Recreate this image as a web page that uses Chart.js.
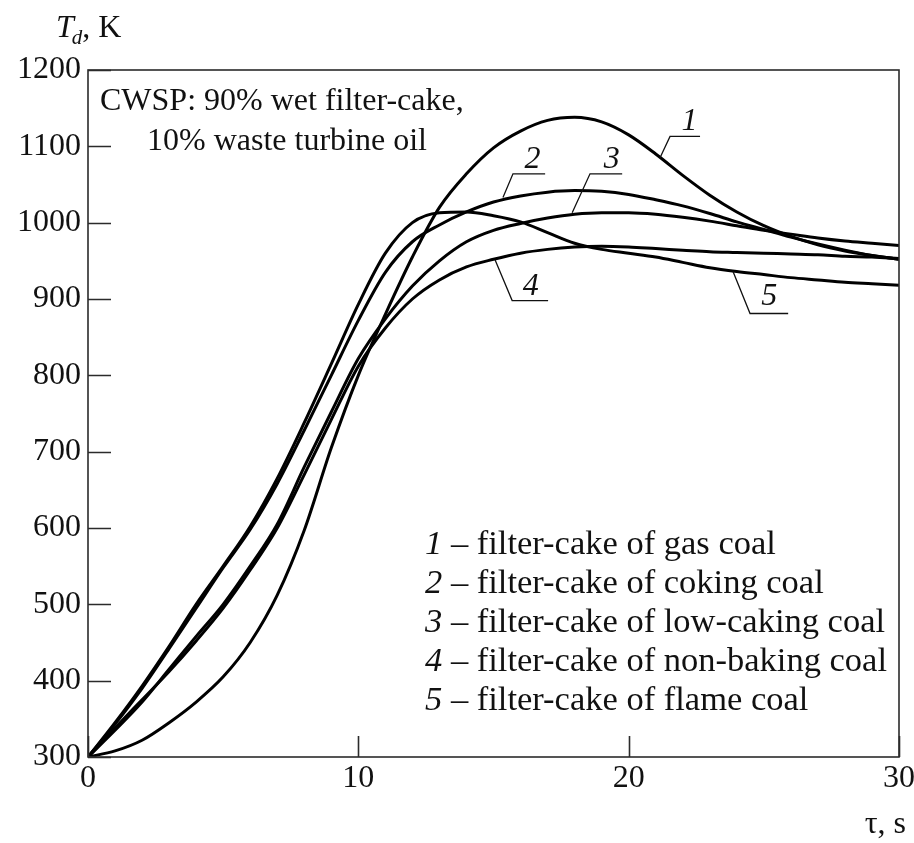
<!DOCTYPE html>
<html><head><meta charset="utf-8">
<script src="https://cdn.jsdelivr.net/npm/chart.js@4.4.0/dist/chart.umd.min.js"></script>
<style>html,body{margin:0;padding:0;background:#fff;}#wrap{width:914px;height:843px;}</style>
</head><body><div id="wrap"><canvas id="c" width="914" height="843"></canvas></div>
<script>
// ---- data ----
const tau = [0,1,2,3,4,5,6,7,8,9,10,11,12,13,14,15,16,17,18,19,20,21,22,23,24,25,26,27,28,29,30];
const gasCoal      = [300,308,322,345,372,405,450,512,597,705,800,880,955,1020,1064,1098,1120,1134,1138,1132,1115,1090,1062,1036,1014,996,982,971,963,957,952];
const cokingCoal   = [300,343,390,442,495,548,598,658,728,800,872,935,975,997,1014,1027,1035,1040,1042,1041,1037,1030,1022,1012,1001,991,981,972,964,957,952];
const lowCakingCoal= [300,335,372,415,458,500,550,605,680,752,822,874,917,950,975,990,999,1006,1011,1013,1013,1011,1007,1002,996,990,985,980,976,973,970];
const nonBakingCoal= [300,338,375,412,452,495,545,600,670,742,812,862,900,925,942,952,960,965,968,969,968,966,964,962,961,960,959,958,956,955,953];
const flameCoal    = [300,345,393,445,500,550,602,665,738,815,893,960,1000,1013,1014,1009,1001,987,973,965,960,955,948,941,936,932,928,925,922,920,918];
const seriesNames  = ['1','2','3','4','5'];
const legendTexts  = ['filter-cake of gas coal','filter-cake of coking coal','filter-cake of low-caking coal','filter-cake of non-baking coal','filter-cake of flame coal'];
const xTicks = [0,10,20,30];
const yTicks = [300,400,500,600,700,800,900,1000,1100,1200];
// leader lines: [curve point, bend, end] in (tau, T), and label anchor
const leaderPts = [
  [[21.16,1085],[21.53,1113],[22.64,1113]],
  [[15.35,1033],[15.72,1064],[16.91,1064]],
  [[17.91,1013],[18.57,1064],[19.76,1064]],
  [[15.06,951],[15.69,898],[17.02,898]],
  [[23.86,936],[24.49,881],[25.90,881]]
];
const leaderLabelAt = [[21.95,1122],[16.15,1072],[19.08,1072],[16.08,905],[24.9,892]];

const SERIF = "'Liberation Serif','Times New Roman',serif";
const FS = 32;
const FL = 34.5;

const annot = {
  id: 'annot',
  afterDatasetsDraw(chart) {
    const {ctx, chartArea: a, scales: {x, y}} = chart;
    ctx.save();
    // frame
    ctx.strokeStyle = '#2b2b2b'; ctx.lineWidth = 1.6;
    ctx.strokeRect(a.left, a.top, a.right - a.left, a.bottom - a.top);
    // inward ticks
    ctx.beginPath();
    yTicks.forEach(v => { const py = Math.round(y.getPixelForValue(v)) + 0.5; ctx.moveTo(a.left, py); ctx.lineTo(a.left + 23, py); });
    xTicks.forEach(v => { const px = Math.round(x.getPixelForValue(v)) + 0.5; ctx.moveTo(px, a.bottom); ctx.lineTo(px, a.bottom - 21); });
    ctx.stroke();
    // leader lines
    ctx.strokeStyle = '#111'; ctx.lineWidth = 1.3;
    leaderPts.forEach(L => {
      ctx.beginPath();
      L.forEach((p, i) => { const px = x.getPixelForValue(p[0]), py = y.getPixelForValue(p[1]); i ? ctx.lineTo(px, py) : ctx.moveTo(px, py); });
      ctx.stroke();
    });
    ctx.fillStyle = '#111';
    ctx.textBaseline = 'alphabetic'; ctx.textAlign = 'left';
    ctx.font = `italic ${FS}px ${SERIF}`;
    leaderLabelAt.forEach((p, i) => ctx.fillText(seriesNames[i], x.getPixelForValue(p[0]), y.getPixelForValue(p[1])));
    // annotation
    ctx.font = `${FS}px ${SERIF}`;
    ctx.fillText('CWSP: 90% wet filter-cake,', a.left + 12, a.top + 40);
    ctx.fillText('10% waste turbine oil', a.left + 59, a.top + 80);
    // legend
    seriesNames.forEach((n, i) => {
      const bx = a.left + 337, by = a.top + 484 + i * 39;
      ctx.font = `italic ${FL}px ${SERIF}`;
      ctx.fillText(n, bx, by);
      const w = ctx.measureText(n).width;
      ctx.font = `${FL}px ${SERIF}`;
      ctx.fillText(' \u2013 ' + legendTexts[i], bx + w, by);
    });
    // axis titles
    ctx.font = `italic ${FS}px ${SERIF}`;
    ctx.fillText('T', 56, 37);
    let tw = ctx.measureText('T').width;
    ctx.font = `italic 21px ${SERIF}`;
    ctx.fillText('d', 56 + tw - 2, 44);
    const dw = ctx.measureText('d').width;
    ctx.font = `${FS}px ${SERIF}`;
    ctx.fillText(', K', 56 + tw - 2 + dw, 37);
    ctx.textAlign = 'right';
    ctx.fillText('\u03c4, s', 906, 833);
    ctx.restore();
  }
};

const mk = (label, arr) => ({
  label, data: tau.map((t, i) => ({x: t, y: arr[i]})),
  borderColor: '#000', borderWidth: 3, pointRadius: 0, fill: false,
  cubicInterpolationMode: 'monotone'
});

new Chart(document.getElementById('c'), {
  type: 'line',
  data: { datasets: [
    mk('1', gasCoal), mk('2', cokingCoal), mk('3', lowCakingCoal), mk('4', nonBakingCoal), mk('5', flameCoal)
  ]},
  options: {
    responsive: false, animation: false,
    layout: { padding: { top: 70, right: 15, bottom: 46, left: 0 } },
    plugins: { legend: { display: false }, tooltip: { enabled: false } },
    scales: {
      x: {
        type: 'linear', min: 0, max: 30,
        afterBuildTicks: s => { s.ticks = xTicks.map(v => ({value: v})); },
        afterFit: s => { s.height = 40; s.paddingRight = 0; s.paddingLeft = 0; },
        grid: { display: false, drawTicks: false },
        border: { display: false },
        ticks: { padding: 2, color: '#111', font: { family: SERIF, size: FS }, callback: v => String(v) }
      },
      y: {
        type: 'linear', min: 300, max: 1200,
        afterBuildTicks: s => { s.ticks = yTicks.map(v => ({value: v})); },
        afterFit: s => { s.width = 88; },
        grid: { display: false, drawTicks: false },
        border: { display: false },
        ticks: { padding: 7, color: '#111', font: { family: SERIF, size: FS }, callback: v => String(v) }
      }
    }
  },
  plugins: [annot]
});
</script>
</body></html>
